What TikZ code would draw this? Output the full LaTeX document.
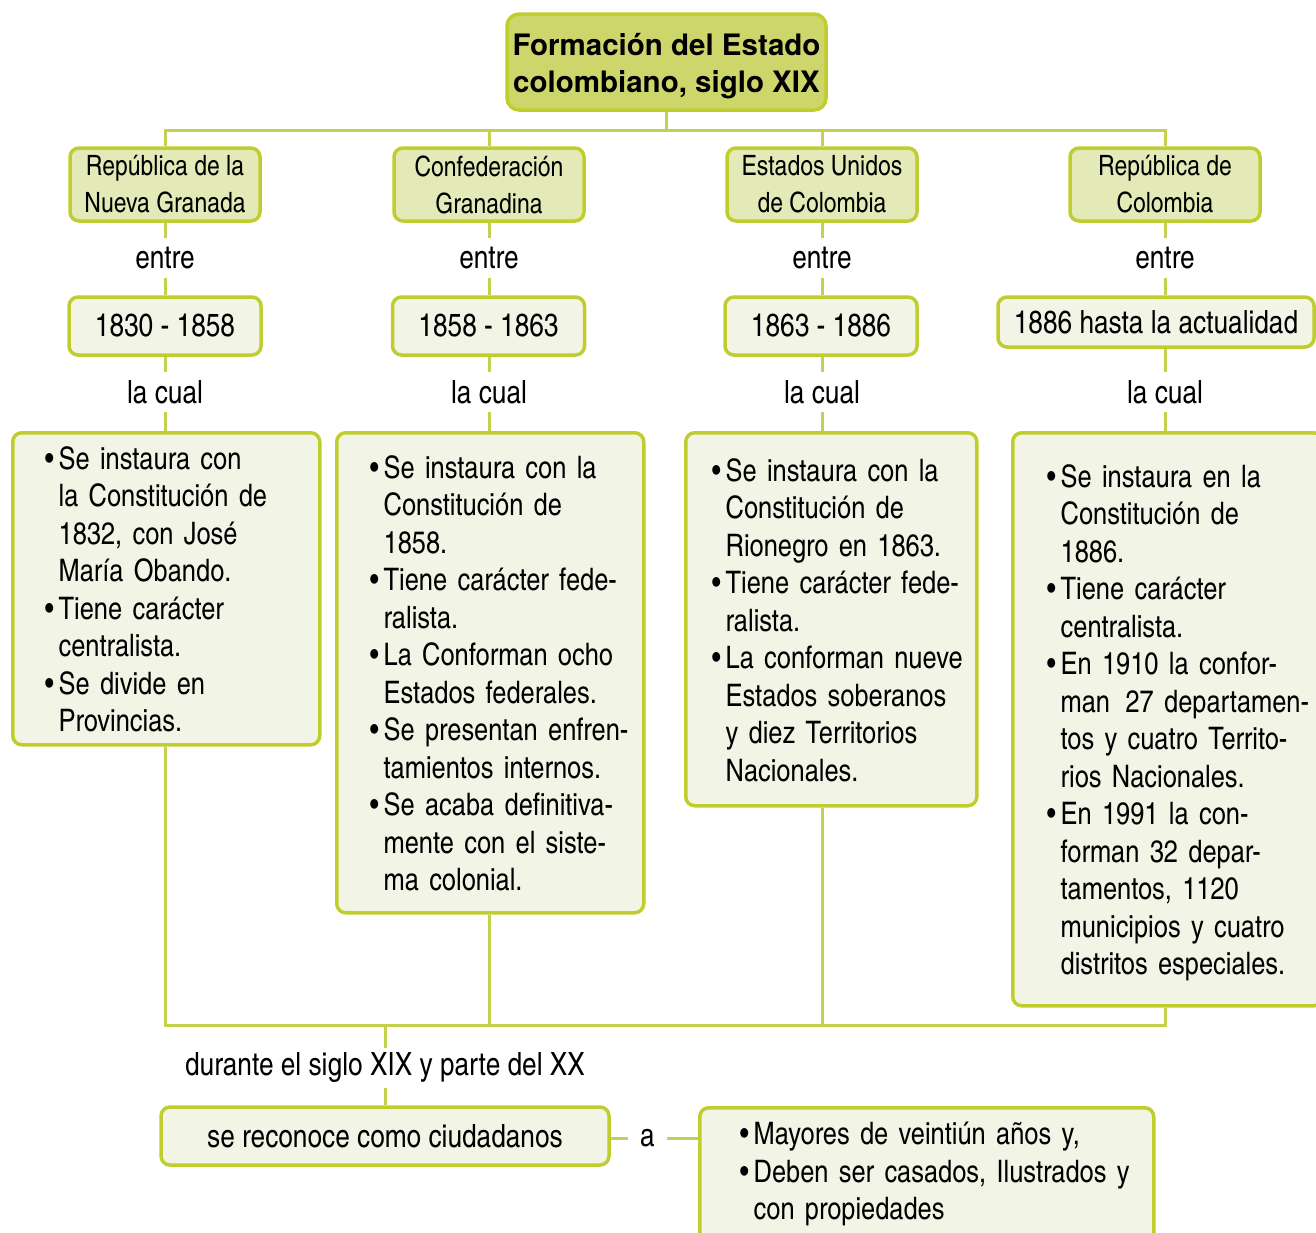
\documentclass[tikz,border=0pt]{standalone}
\usepackage{fontspec}
\setmainfont{texgyreheroscn-regular.otf}[BoldFont=texgyreheroscn-bold.otf]
\newfontfamily\titlefont{texgyreheros-bold.otf}
\usepackage{tikz}
\usetikzlibrary{positioning}
\definecolor{limeline}{RGB}{191,205,46}
\definecolor{limelink}{RGB}{196,209,78}
\definecolor{titlefill}{RGB}{205,214,107}
\definecolor{headfill}{RGB}{227,233,183}
\definecolor{cardfill}{RGB}{242,245,229}
\newcommand{\mapfont}{\fontsize{31}{37.5}\selectfont}
\newcommand{\wordfont}{\fontsize{32}{37.5}\selectfont}
\newcommand{\headfont}{\fontsize{28}{37}\selectfont}
% bullet list; the optional rule pushes the lines a bit down in the card
\newcommand{\blist}[2][35pt]{\begin{tabular}{@{}l@{\hspace{5pt}}l@{}}\rule{0pt}{#1}\ignorespaces#2\end{tabular}}
\newcommand{\bl}{\textbullet &}

\begin{document}
\begin{tikzpicture}[x=1pt, y=-1pt,
    box/.style={rectangle, rounded corners=9pt, draw=limeline, line width=3.5pt,
                align=center, inner sep=0pt, font=\wordfont},
    title/.style={box, rounded corners=12pt, fill=titlefill, minimum width=319pt, minimum height=96pt,
                  font=\titlefont\fontsize{29.5}{37}\selectfont},
    head/.style={box, fill=headfill, minimum width=190pt, minimum height=73pt, font=\headfont},
    datebox/.style={box, fill=cardfill, minimum width=192pt, minimum height=58pt},
    card/.style={box, fill=cardfill, anchor=north west, align=left, font=\mapfont},
    word/.style={font=\wordfont, minimum height=40pt, inner sep=0pt},
    link/.style={draw=limelink, line width=3pt}
]
\useasboundingbox (0,0) rectangle (1316,1232);
\clip (0,0) rectangle (1316,1232);

% title and top bar
\node[title] (title) at (666.5,62) {\begin{tabular}{@{}c@{}}\rule{0pt}{36pt}Formación del Estado\\colombiano, siglo XIX\end{tabular}};
\coordinate (top) at (666.5,130);

\node[head] (rep)  at (165,184.5)  {República de la\\Nueva Granada};
\node[head] (conf) at (489,184.5)  {Confederación\\Granadina};
\node[head] (eu)   at (822,184.5)  {Estados Unidos\\de Colombia};
\node[head] (rcol) at (1165,184.5) {República de\\Colombia};

\node[word] (entre1) at (165,258)  {entre};
\node[word] (entre2) at (489,258)  {entre};
\node[word] (entre3) at (822,258)  {entre};
\node[word] (entre4) at (1165,258) {entre};

\node[datebox] (d1) at (165,326)   {1830 - 1858};
\node[datebox] (d2) at (488.5,326) {1858 - 1863};
\node[datebox] (d3) at (821,326)   {1863 - 1886};
\node[datebox, minimum width=316pt, minimum height=50pt] (d4) at (1156,322) {1886 hasta la actualidad};

\node[word] (lc1) at (165,392)  {la cual};
\node[word] (lc2) at (489,392)  {la cual};
\node[word] (lc3) at (822,392)  {la cual};
\node[word] (lc4) at (1165,392) {la cual};

% content cards
\node[card, inner xsep=32pt, text width=243pt, minimum height=312pt] (c1) at (11,431) {\blist{
  \bl Se instaura con\\ & la Constitución de\\ & 1832, con José\\ & María Obando.\\
  \bl Tiene carácter\\ & centralista.\\
  \bl Se divide en\\ & Provincias.}};
\node[card, inner xsep=33pt, text width=241pt, minimum height=480pt] (c2) at (335,431) {\blist{
  \bl Se instaura con la\\ & Constitución de\\ & 1858.\\
  \bl Tiene carácter fede-\\ & ralista.\\
  \bl La Conforman ocho\\ & Estados federales.\\
  \bl Se presentan enfren-\\ & tamientos internos.\\
  \bl Se acaba definitiva-\\ & mente con el siste-\\ & ma colonial.}};
\node[card, inner xsep=26pt, text width=239pt, minimum height=373pt] (c3) at (684,431) {\blist{
  \bl Se instaura con la\\ & Constitución de\\ & Rionegro en 1863.\\
  \bl Tiene carácter fede-\\ & ralista.\\
  \bl La conforman nueve\\ & Estados soberanos\\ & y diez Territorios\\ & Nacionales.}};
\node[card, inner xsep=34pt, text width=242pt, minimum height=573pt] (c4) at (1011,431) {\blist{
  \bl Se instaura en la\\ & Constitución de\\ & 1886.\\
  \bl Tiene carácter\\ & centralista.\\
  \bl En 1910 la confor-\\ & man\enspace 27 departamen-\\ & tos y cuatro Territo-\\ & rios Nacionales.\\
  \bl En 1991 la con-\\ & forman 32 depar-\\ & tamentos, 1120\\ & municipios y cuatro\\ & distritos especiales.}};

% bottom part
\coordinate (br) at (1165,1025);
\node[word] (durante) at (385,1068) {durante el siglo XIX y parte del XX};
\node[datebox, minimum width=448pt] (ciud) at (385,1136) {se reconoce como ciudadanos};
\node[word, minimum width=39pt] (a) at (647.5,1138) {a};
\node[card, inner xsep=40pt, text width=374pt, minimum height=134pt] (req) at (698,1106) {\blist[26pt]{
  \bl Mayores de veintiún años y,\\
  \bl Deben ser casados, Ilustrados y\\ & con propiedades}};

% connectors
\draw[link] (title.south) -- (top);
\draw[link] (rep.north) |- (top) -| (rcol.north);
\draw[link] (conf.north) -- (conf.north |- top);
\draw[link] (eu.north) -- (eu.north |- top);
\foreach \h/\e/\d/\l/\c in {rep/entre1/d1/lc1/c1, conf/entre2/d2/lc2/c2,
                            eu/entre3/d3/lc3/c3, rcol/entre4/d4/lc4/c4} {
  \draw[link] (\h) -- (\e) -- (\e |- \d.north);
  \draw[link] (\e |- \d.south) -- (\l) -- (\l |- \c.north);
}
\draw[link] (lc1 |- c1.south) |- (br) -- (lc4 |- c4.south);
\draw[link] (lc2 |- c2.south) -- (lc2 |- br);
\draw[link] (lc3 |- c3.south) -- (lc3 |- br);
\draw[link] (durante) -- (durante |- br);
\draw[link] (durante) -- (ciud);
\draw[link] (ciud.east |- a) -- (a) -- (a -| req.west);
\end{tikzpicture}
\end{document}
